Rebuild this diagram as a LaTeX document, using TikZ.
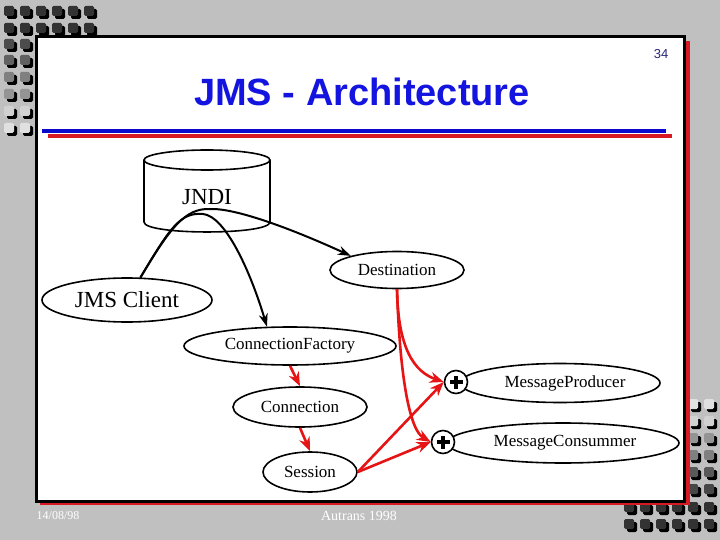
\documentclass[tikz,border=0pt]{standalone}
\usepackage{fontspec}
\setmainfont{Liberation Serif}
\newfontfamily\titlefont{Liberation Sans}
\usepackage{xcolor}
\usetikzlibrary{shapes,arrows.meta,positioning,calc}
\definecolor{slidegray}{RGB}{192,192,192}
\definecolor{titleblue}{RGB}{20,20,225}
\definecolor{ruleblue}{RGB}{10,10,205}
\definecolor{rulered}{RGB}{215,25,35}
\definecolor{linkred}{RGB}{230,20,20}
\definecolor{pagenavy}{RGB}{40,40,120}
% little shaded squares of the slide frame
\newcommand{\decosq}[3]{%
  \fill[black,rounded corners=1.5pt] (#1-3,#2-3) rectangle (#1+7,#2+7);
  \fill[black!#3,rounded corners=1.5pt] (#1-6,#2-6) rectangle (#1+4,#2+4);}

\begin{document}
\begin{tikzpicture}[x=1pt,y=-1pt,
    obj/.style={ellipse,draw,line width=1.6pt,fill=white,inner sep=0pt,font=\fontsize{17}{17}\selectfont},
    plusnode/.style={circle,draw,line width=1.6pt,fill=white,minimum size=23pt,inner sep=0pt,
      path picture={
        \draw[line width=3.2pt] ([xshift=-6.5pt]path picture bounding box.center) -- ([xshift=6.5pt]path picture bounding box.center);
        \draw[line width=3.2pt] ([yshift=-6.5pt]path picture bounding box.center) -- ([yshift=6.5pt]path picture bounding box.center);}},
    lookup/.style={line width=2pt,-{Stealth[length=13pt,width=9pt]}},
    create/.style={linkred,line width=2.6pt,-{Stealth[length=14pt,width=11pt]}}]
    \useasboundingbox (0,0) rectangle (720,540);
    \fill[slidegray] (0,0) rectangle (720,540);

    % frame squares
    \foreach \y in {12,29} \foreach \x in {10,26,42,58,74,90} {\decosq{\x}{\y}{80}}
    \foreach \y/\g in {45/70,61/62,78/50,95/42,112/18,129/12} \foreach \x in {10,26} {\decosq{\x}{\y}{\g}}
    \foreach \y/\g in {405/12,422/18,439/42,456/50,473/65,490/72} \foreach \x in {694,710} {\decosq{\x}{\y}{\g}}
    \foreach \y in {508,525} \foreach \x in {630,646,662,678,694,710} {\decosq{\x}{\y}{80}}

    % slide
    \fill[rulered] (40,41) rectangle (690,505);
    \draw[line width=3pt,fill=white] (36,37) rectangle (684,501);
    \node[text=pagenavy,font=\titlefont\fontsize{13}{13}\selectfont] (page) at (661,54) {34};
    \node[text=titleblue,font=\titlefont\bfseries\fontsize{38}{38}\selectfont] (title) at (362,92) {JMS - Architecture};
    \draw[ruleblue,line width=4pt] (42,131.5) -- (666,131.5);
    \draw[rulered,line width=4pt] (48,136.5) -- (672,136.5);

    % JNDI store
    \draw[line width=1.6pt,fill=white] (144,160) -- (144,222) .. controls (144,235.3) and (270,235.3) .. (270,222) -- (270,160);
    \draw[line width=1.6pt,fill=white] (207,160) ellipse[x radius=63,y radius=10];
    \node[font=\fontsize{23}{23}\selectfont] (jndi) at (207,197) {JNDI};

    \node[obj,minimum width=134pt,minimum height=37pt] (dest) at (397,270) {Destination};
    \node[obj,minimum width=170pt,minimum height=44pt,font=\fontsize{23}{23}\selectfont] (client) at (127,300) {JMS Client};
    \node[obj,minimum width=212pt,minimum height=38pt] (cf) at (290,346) {ConnectionFactory};
    \node[obj,minimum width=134pt,minimum height=40pt] (conn) at (300,407) {Connection};
    \node[obj,minimum width=94pt,minimum height=40pt] (session) at (310,472) {Session};
    \node[obj,minimum width=200pt,minimum height=39pt] (prod) at (560,383) {\hspace{10pt}MessageProducer};
    \node[obj,minimum width=232pt,minimum height=40pt] (cons) at (563,443) {\hspace{4pt}MessageConsummer};
    \node[plusnode] (pplus) at (456,382) {};
    \node[plusnode] (cplus) at (443,442) {};

    % lookups in JNDI
    \draw[lookup] (client) .. controls (170,228) and (185,208) .. (210,209)
                           .. controls (235,208) and (290,228) .. (dest.163);
    \draw[lookup] (client) .. controls (170,228) and (180,212) .. (203,214)
                           .. controls (225,216) and (250,270) .. (cf.140);

    % creations
    \draw[create] (cf.south) -- (conn.north);
    \draw[create] (conn.south) -- (session.north);
    \draw[create] (session.east) -- (pplus.west);
    \draw[create] (session.east) -- (cplus.west);
    \draw[create] (dest.south) .. controls (398,350) and (415,372) .. (pplus.west);
    \draw[create] (dest.south) .. controls (400,380) and (410,430) .. (cplus.west);

    % footer
    \node[text=white,font=\fontsize{12}{12}\selectfont] (date) at (58,516) {14/08/98};
    \node[text=white,font=\fontsize{14}{14}\selectfont] (place) at (359,516) {Autrans 1998};
\end{tikzpicture}
\end{document}
